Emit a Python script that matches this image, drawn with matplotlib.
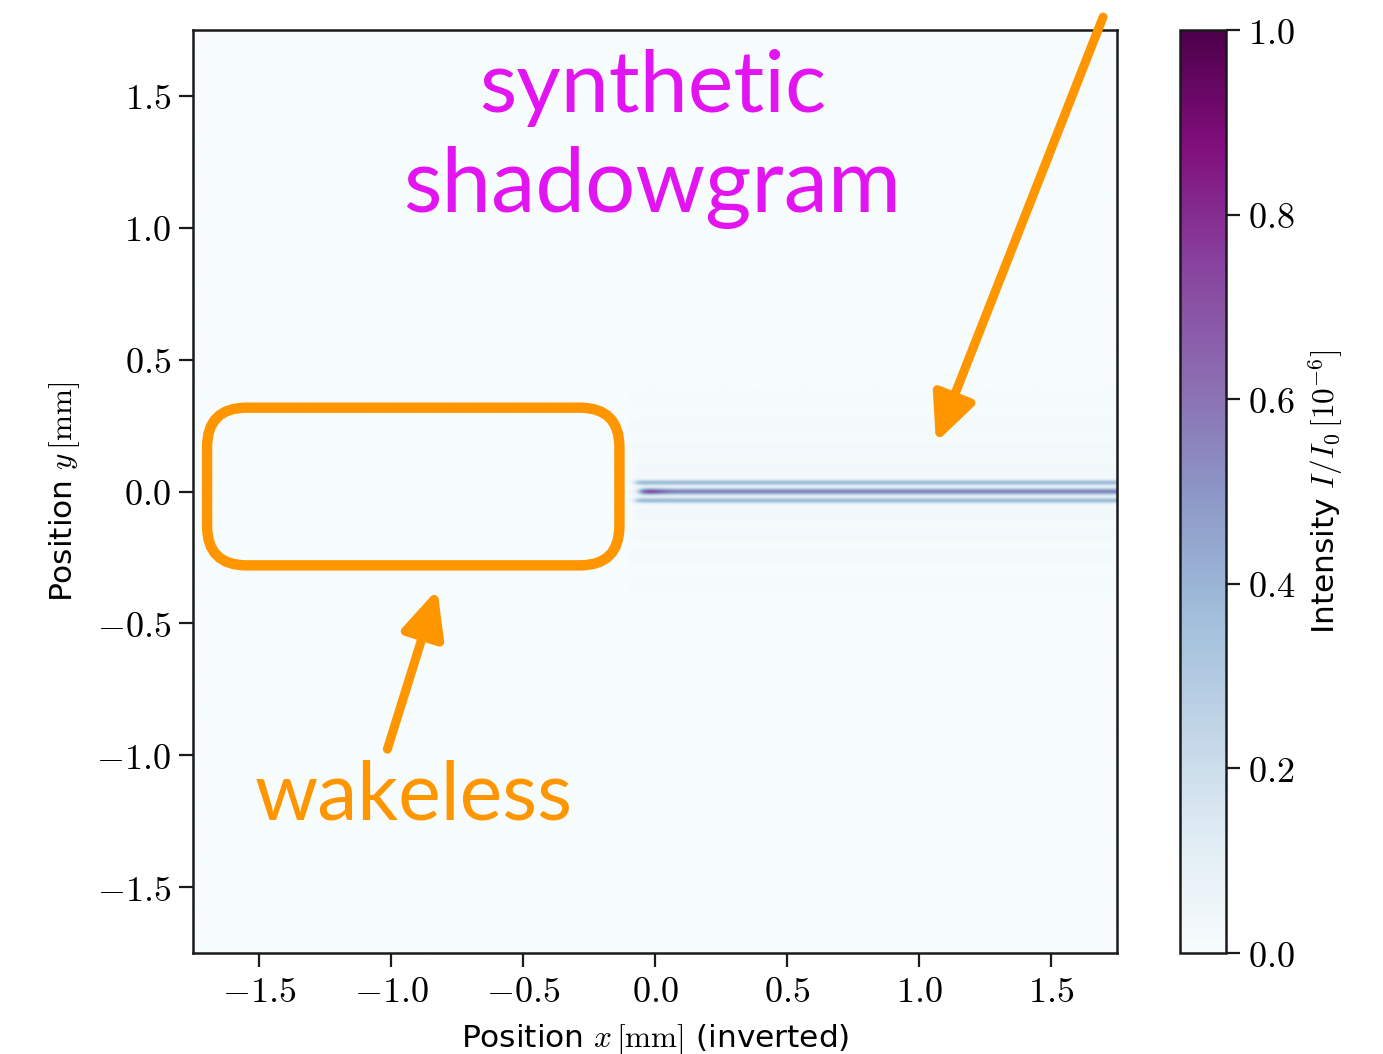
import numpy as np
import matplotlib
matplotlib.use('agg')
import matplotlib.pyplot as plt
from matplotlib.patches import FancyBboxPatch
from matplotlib.ticker import FuncFormatter

plt.rcParams['mathtext.fontset'] = 'cm'
plt.rcParams['font.family'] = ['DejaVu Sans']

# shadowgram fringes: transverse offset [mm], peak intensity [1e-6 I0], rms width [mm], onset x [mm]
band_offsets = [0.0, 0.034, -0.034, 0.085, -0.085, 0.16, -0.16, 0.25, -0.25, 0.36, -0.36]
band_peaks = [0.56, 0.38, 0.38, 0.035, 0.035, 0.025, 0.025, 0.018, 0.018, 0.012, 0.012]
band_widths = [0.009, 0.0075, 0.0075, 0.018, 0.018, 0.022, 0.022, 0.026, 0.026, 0.028, 0.028]
band_onsets = [-0.057, -0.076, -0.076, -0.08, -0.08, -0.09, -0.09, -0.1, -0.1, -0.1, -0.1]

# bright spot at the head of the central fringe
spot_x = [-0.057, 0.02]
spot_peak = 0.72

extent = [-1.75, 1.75, -1.75, 1.75]
x_ticks = [-1.5, -1.0, -0.5, 0.0, 0.5, 1.0, 1.5]
cbar_ticks = [0.0, 0.2, 0.4, 0.6, 0.8, 1.0]

# annotation marks (mm)
box_x = [-1.697, -0.135]
box_y = [-0.280, 0.318]
arrow_top = [(1.697, 1.799), (1.064, 0.186)]
arrow_low = [(-1.014, -0.977), (-0.825, -0.371)]

orange = '#ff9600'
magenta = '#e214f2'

xs = np.linspace(extent[0], extent[1], 900)
ys = np.linspace(extent[2], extent[3], 1400)
X, Y = np.meshgrid(xs, ys)
img = np.zeros_like(X)
for yc, pk, w, x0 in zip(band_offsets, band_peaks, band_widths, band_onsets):
    on = 1.0 / (1.0 + np.exp(-(X - x0) / 0.008))
    img += pk * on * np.exp(-0.5 * ((Y - yc) / w) ** 2)
spot = np.exp(-0.5 * ((X - np.mean(spot_x)) / (0.5 * (spot_x[1] - spot_x[0]))) ** 2)
img += (spot_peak - band_peaks[0]) * spot * np.exp(-0.5 * (Y / band_widths[0]) ** 2)

fig = plt.figure(figsize=(13.83, 10.54), dpi=100)
ax = fig.add_axes([0.1396, 0.0958, 0.6681, 0.8757])
cax = fig.add_axes([0.8532, 0.0958, 0.0333, 0.8757])

im = ax.imshow(img, cmap='BuPu', vmin=0, vmax=1, extent=extent, origin='lower',
               interpolation='bilinear', aspect='auto')
cb = fig.colorbar(im, cax=cax)

fmt = FuncFormatter(lambda v, _: r'$%.1f$' % v)
for a in (ax, cax):
    for s in a.spines.values():
        s.set_linewidth(1.8)
        s.set_color('#1a1a1a')
    a.tick_params(labelsize=26, length=10, width=1.6, pad=6, direction='out', color='#1a1a1a')
ax.set_xticks(x_ticks)
ax.set_yticks(x_ticks)
ax.xaxis.set_major_formatter(fmt)
ax.yaxis.set_major_formatter(fmt)
ax.set_xlim(extent[0], extent[1])
ax.set_ylim(extent[2], extent[3])
cb.set_ticks(cbar_ticks)
cb.ax.yaxis.set_major_formatter(fmt)
cb.outline.set_linewidth(1.8)

ax.set_xlabel(r'Position $x\,[\mathrm{mm}]$ (inverted)', fontsize=22.5, labelpad=9)
ax.set_ylabel(r'Position $y\,[\mathrm{mm}]$', fontsize=22.5, labelpad=10)
cb.set_label(r'Intensity $I/I_0\,[10^{-6}]$', fontsize=22.5, labelpad=8)

box = FancyBboxPatch((box_x[0], box_y[0]), box_x[1] - box_x[0], box_y[1] - box_y[0],
                     boxstyle='round,pad=0,rounding_size=0.15', fill=False,
                     edgecolor=orange, linewidth=7.5)
ax.add_patch(box)

for (tail, tip) in (arrow_top, arrow_low):
    ax.annotate('', xy=tip, xytext=tail, annotation_clip=False,
                arrowprops=dict(arrowstyle='-|>,head_length=28,head_width=13',
                                mutation_scale=1, color=orange, linewidth=6.5,
                                shrinkA=0, shrinkB=0))

txt = dict(family='Lato', fontweight='normal', ha='center', va='baseline')
ax.text(-0.01, 1.44, 'synthetic', color=magenta, fontsize=62, **txt)
ax.text(-0.01, 1.06, 'shadowgram', color=magenta, fontsize=64, **txt)
ax.text(-0.915, -1.242, 'wakeless', color=orange, fontsize=58, **txt)

fig.savefig('out.png', dpi=100)
